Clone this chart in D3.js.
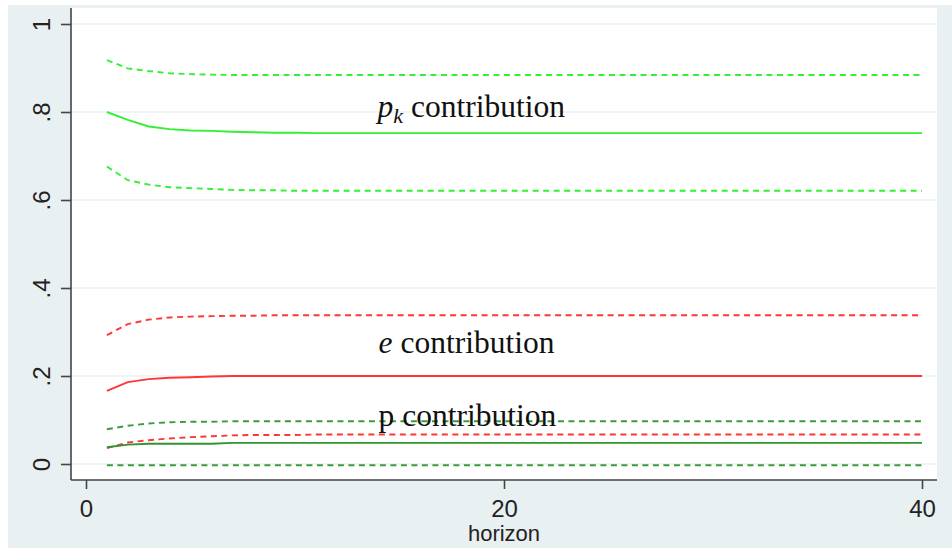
<!DOCTYPE html>
<html>
<head>
<meta charset="utf-8">
<script src="https://cdn.jsdelivr.net/npm/d3@7"></script>
<style>
  html, body { margin: 0; padding: 0; background: #ffffff; }
  svg { display: block; }
</style>
</head>
<body>
<div id="chart"></div>
<script>
// ---------- data ----------
const horizon = [1,2,3,4,5,6,7,8,9,10,11,12,13,14,15,16,17,18,19,20,21,22,23,24,25,26,27,28,29,30,31,32,33,34,35,36,37,38,39,40];

const pkMid = [0.800,0.782,0.767,0.761,0.758,0.757,0.755,0.754,0.753,0.753,
               0.752,0.752,0.752,0.752,0.752,0.752,0.752,0.752,0.752,0.752,
               0.752,0.752,0.752,0.752,0.752,0.752,0.752,0.752,0.752,0.752,
               0.752,0.752,0.752,0.752,0.752,0.752,0.752,0.752,0.752,0.752];
const pkHi  = [0.918,0.899,0.893,0.888,0.886,0.885,0.884,0.884,0.884,0.884,
               0.884,0.884,0.884,0.884,0.884,0.884,0.884,0.884,0.884,0.884,
               0.884,0.884,0.884,0.884,0.884,0.884,0.884,0.884,0.884,0.884,
               0.884,0.884,0.884,0.884,0.884,0.884,0.884,0.884,0.884,0.884];
const pkLo  = [0.676,0.645,0.635,0.629,0.627,0.625,0.623,0.622,0.622,0.621,
               0.621,0.621,0.621,0.621,0.621,0.621,0.621,0.621,0.621,0.621,
               0.621,0.621,0.621,0.621,0.621,0.621,0.621,0.621,0.621,0.621,
               0.621,0.621,0.621,0.621,0.621,0.621,0.621,0.621,0.621,0.621];

const eMid = [0.166,0.186,0.193,0.196,0.197,0.199,0.200,0.200,0.200,0.200,
              0.200,0.200,0.200,0.200,0.200,0.200,0.200,0.200,0.200,0.200,
              0.200,0.200,0.200,0.200,0.200,0.200,0.200,0.200,0.200,0.200,
              0.200,0.200,0.200,0.200,0.200,0.200,0.200,0.200,0.200,0.200];
const eHi  = [0.293,0.318,0.328,0.333,0.335,0.336,0.337,0.337,0.338,0.338,
              0.338,0.338,0.338,0.338,0.338,0.338,0.338,0.338,0.338,0.338,
              0.338,0.338,0.338,0.338,0.338,0.338,0.338,0.338,0.338,0.338,
              0.338,0.338,0.338,0.338,0.338,0.338,0.338,0.338,0.338,0.338];
const eLo  = [0.036,0.049,0.054,0.058,0.061,0.063,0.065,0.066,0.066,0.066,
              0.067,0.067,0.067,0.067,0.067,0.067,0.067,0.067,0.067,0.067,
              0.067,0.067,0.067,0.067,0.067,0.067,0.067,0.067,0.067,0.067,
              0.067,0.067,0.067,0.067,0.067,0.067,0.067,0.067,0.067,0.067];

const pMid = [0.038,0.044,0.046,0.046,0.046,0.046,0.048,0.048,0.048,0.048,
              0.048,0.048,0.048,0.048,0.048,0.048,0.048,0.048,0.048,0.048,
              0.048,0.048,0.048,0.048,0.048,0.048,0.048,0.048,0.048,0.048,
              0.048,0.048,0.048,0.048,0.048,0.048,0.048,0.048,0.048,0.048];
const pHi  = [0.079,0.087,0.092,0.095,0.096,0.096,0.097,0.097,0.097,0.097,
              0.097,0.097,0.097,0.097,0.097,0.097,0.097,0.097,0.097,0.097,
              0.097,0.097,0.097,0.097,0.097,0.097,0.097,0.097,0.097,0.097,
              0.097,0.097,0.097,0.097,0.097,0.097,0.097,0.097,0.097,0.097];
const pLo  = [-0.003,-0.003,-0.003,-0.003,-0.003,-0.003,-0.003,-0.003,-0.003,-0.003,
              -0.003,-0.003,-0.003,-0.003,-0.003,-0.003,-0.003,-0.003,-0.003,-0.003,
              -0.003,-0.003,-0.003,-0.003,-0.003,-0.003,-0.003,-0.003,-0.003,-0.003,
              -0.003,-0.003,-0.003,-0.003,-0.003,-0.003,-0.003,-0.003,-0.003,-0.003];

const yTicks = [0, 0.2, 0.4, 0.6, 0.8, 1];
const yTickLabels = ["0", ".2", ".4", ".6", ".8", "1"];
const xTicks = [0, 20, 40];
const xTitle = "horizon";

// ---------- layout ----------
const W = 952, H = 550;
const plot = { left: 71, right: 937, top: 8, bottom: 480 };

const x = d3.scaleLinear().domain([0, 40]).range([86, 922]);
const y = d3.scaleLinear().domain([0, 1]).range([464, 24]);

const svg = d3.select("#chart").append("svg")
  .attr("width", W).attr("height", H);

// outer background
svg.append("rect").attr("x", 8).attr("y", 5).attr("width", W - 8).attr("height", H - 7)
  .attr("fill", "#e9f0f2");
// plot region
svg.append("rect").attr("x", plot.left).attr("y", plot.top)
  .attr("width", plot.right - plot.left).attr("height", plot.bottom - plot.top)
  .attr("fill", "#ffffff");

// gridlines
svg.append("g").selectAll("line").data(yTicks).join("line")
  .attr("x1", plot.left).attr("x2", plot.right)
  .attr("y1", d => y(d)).attr("y2", d => y(d))
  .attr("stroke", "#eaf1f3").attr("stroke-width", 1.6);

// series
const series = [
  { v: pLo,  color: "#3c9a3c", dash: "6,4.5" },
  { v: pHi,  color: "#3c9a3c", dash: "6,4.5" },
  { v: eLo,  color: "#ff3636", dash: "6,4.5" },
  { v: eHi,  color: "#ff3636", dash: "6,4.5" },
  { v: pkLo, color: "#33f033", dash: "6,4.5" },
  { v: pkHi, color: "#33f033", dash: "6,4.5" },
  { v: pMid, color: "#2f952f", dash: null },
  { v: eMid, color: "#ff3636", dash: null },
  { v: pkMid,color: "#33f033", dash: null }
];
const line = d3.line().x((d, i) => x(horizon[i])).y(d => y(d));
svg.append("g").selectAll("path").data(series).join("path")
  .attr("d", d => line(d.v))
  .attr("fill", "none")
  .attr("stroke", d => d.color)
  .attr("stroke-width", 1.9)
  .attr("stroke-dasharray", d => d.dash);

// axes
const yAxis = d3.axisLeft(y).tickValues(yTicks).tickSize(10)
  .tickFormat((d, i) => yTickLabels[i]);
const gy = svg.append("g").attr("transform", `translate(${plot.left},0)`).call(yAxis);
gy.select(".domain").attr("d", `M0,${plot.top}V${plot.bottom}`)
  .attr("stroke", "#444").attr("stroke-width", 1.6);
gy.selectAll(".tick line").attr("stroke", "#444").attr("stroke-width", 1.6);
gy.selectAll(".tick text")
  .attr("font-family", "'Liberation Sans', Arial, sans-serif")
  .attr("font-size", 24).attr("fill", "#222")
  .attr("text-anchor", "middle").attr("dy", null)
  .attr("x", null)
  .attr("transform", "translate(-21,0) rotate(-90)");

const xAxis = d3.axisBottom(x).tickValues(xTicks).tickSize(9).tickFormat(d3.format("d"));
const gx = svg.append("g").attr("transform", `translate(0,${plot.bottom})`).call(xAxis);
gx.select(".domain").attr("d", `M${plot.left},0H${plot.right}`)
  .attr("stroke", "#444").attr("stroke-width", 1.6);
gx.selectAll(".tick line").attr("stroke", "#444").attr("stroke-width", 1.6);
gx.selectAll(".tick text")
  .attr("font-family", "'Liberation Sans', Arial, sans-serif")
  .attr("font-size", 24).attr("fill", "#222")
  .attr("dy", null).attr("y", 37);

svg.append("text")
  .attr("x", (x(0) + x(40)) / 2).attr("y", 541)
  .attr("text-anchor", "middle")
  .attr("font-family", "'Liberation Sans', Arial, sans-serif")
  .attr("font-size", 22).attr("fill", "#222")
  .text(xTitle);

// in-plot labels
const labelFont = "'Liberation Serif', 'Times New Roman', serif";
const pk = svg.append("text").attr("x", x(13.95)).attr("y", y(0.789))
  .attr("font-family", labelFont).attr("font-size", 31.5).attr("fill", "#111");
pk.append("tspan").attr("font-style", "italic").text("p");
pk.append("tspan").attr("font-style", "italic").attr("font-size", 22).attr("dy", 6).text("k");
pk.append("tspan").attr("dy", -6).text(" contribution");

const el = svg.append("text").attr("x", x(14.0)).attr("y", y(0.252))
  .attr("font-family", labelFont).attr("font-size", 31.5).attr("fill", "#111");
el.append("tspan").attr("font-style", "italic").text("e");
el.append("tspan").text(" contribution");

svg.append("text").attr("x", x(14.0)).attr("y", y(0.086))
  .attr("font-family", labelFont).attr("font-size", 31.5).attr("fill", "#111")
  .text("p contribution");
</script>
</body>
</html>
